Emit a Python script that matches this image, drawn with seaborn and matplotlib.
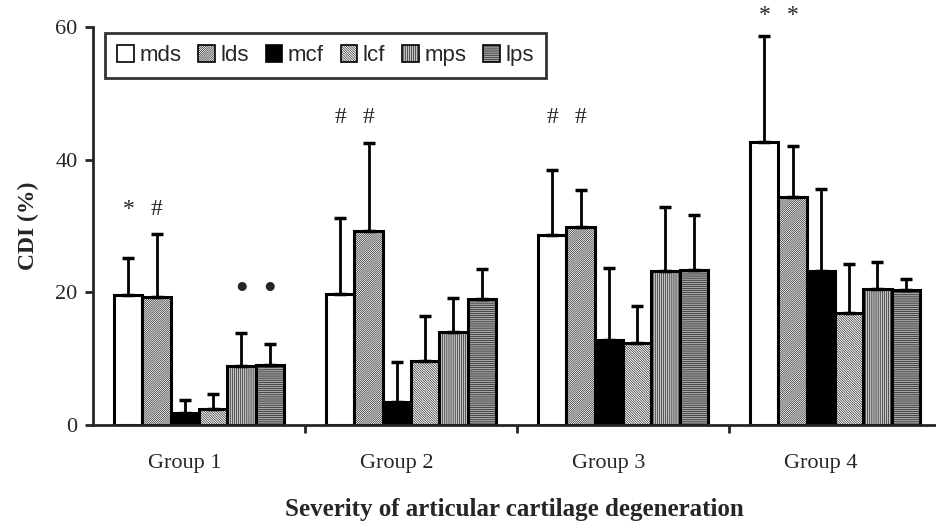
import matplotlib
matplotlib.use("Agg")
import matplotlib.pyplot as plt
import matplotlib.transforms as mtransforms
import seaborn as sns
import pandas as pd
import numpy as np

groups = ["Group 1", "Group 2", "Group 3", "Group 4"]
series = ["mds", "lds", "mcf", "lcf", "mps", "lps"]
mds = [19.6, 19.7, 28.6, 42.7]
lds = [19.3, 29.2, 29.9, 34.4]
mcf = [1.8, 3.5, 12.8, 23.2]
lcf = [2.4, 9.7, 12.4, 16.9]
mps = [8.9, 14.0, 23.2, 20.5]
lps = [9.1, 19.0, 23.4, 20.4]
mds_top = [25.2, 31.2, 38.4, 58.7]
lds_top = [28.8, 42.5, 35.5, 42.1]
mcf_top = [3.8, 9.5, 23.6, 35.6]
lcf_top = [4.7, 16.4, 18.0, 24.3]
mps_top = [13.9, 19.1, 32.9, 24.6]
lps_top = [12.2, 23.5, 31.7, 22.0]
# significance marks: (group index, series index, symbol, y value)
mark_group = [0, 0, 0, 0, 1, 1, 2, 2, 3, 3]
mark_series = [0, 1, 4, 5, 0, 1, 0, 1, 0, 1]
mark_text = ["*", "#", "\u25CF", "\u25CF", "#", "#", "#", "#", "*", "*"]
mark_y = [32.5, 32.5, 20.8, 20.8, 46.4, 46.4, 46.4, 46.4, 61.8, 61.8]

means = [mds, lds, mcf, lcf, mps, lps]
tops = [mds_top, lds_top, mcf_top, lcf_top, mps_top, lps_top]
rows = []
for s, m, t in zip(series, means, tops):
    for g, v, tv in zip(groups, m, t):
        rows.append({"group": g, "series": s, "value": v, "top": tv})
df = pd.DataFrame(rows)

sns.set_style("ticks")
plt.rcParams["hatch.linewidth"] = 0.4

fig = plt.figure(figsize=(9.36, 5.25), dpi=100)
ax = fig.add_axes([93 / 936, 100 / 525, (936 - 93) / 936, (425 - 27) / 525])

faces = ["white", "white", "black", "white", "#c4c4c4", "#a6a6a6"]
hatches = [None, "/" * 16, None, "\\" * 14, "|" * 8, "-" * 8]
hatch_colors = ["black", "#303030", "black", "#404040", "#202020", "#505050"]
pal = dict(zip(series, faces))
sns.barplot(data=df, x="group", y="value", hue="series", order=groups,
            hue_order=series, palette=pal, errorbar=None, width=0.8,
            edgecolor="black", linewidth=2.2, saturation=1, ax=ax, legend=True)


def style_patch(p, si):
    if hatches[si]:
        p.set_hatch(hatches[si])
        if hasattr(p, "set_hatchcolor"):
            p.set_hatchcolor(hatch_colors[si])


bars = list(ax.patches)[:len(series) * len(groups)]
for si, s in enumerate(series):
    for gi in range(len(groups)):
        p = bars[si * len(groups) + gi]
        style_patch(p, si)
        x = p.get_x() + p.get_width() / 2
        h = p.get_height()
        ax.errorbar([x], [h], yerr=[[0], [tops[si][gi] - h]], fmt="none",
                    ecolor="black", elinewidth=2, capsize=4.5, capthick=2.5, zorder=1)

for g, s, t, y in zip(mark_group, mark_series, mark_text, mark_y):
    p = bars[s * len(groups) + g]
    x = p.get_x() + p.get_width() / 2
    fs = 15 if t == "\u25CF" else 17
    ax.text(x, y, t, ha="center", va="center", fontsize=fs,
            family=["Liberation Serif", "DejaVu Sans"], clip_on=False)

ax.set_xlim(-0.5, 3.5 - 5 / 212)
ax.set_ylim(0, 60)
ax.set_yticks([0, 20, 40, 60])
ax.set_xticks([0.5, 1.5, 2.5], minor=True)
ax.set_xticks([0, 1, 2, 3])
ax.set_xticklabels(groups)
ax.tick_params(axis="x", which="major", length=0, pad=21)
ax.tick_params(axis="x", which="minor", length=6, width=2, direction="out")
ax.tick_params(axis="y", length=6, width=2, direction="out", pad=5)
for lab in ax.get_xticklabels():
    lab.set_transform(lab.get_transform() + mtransforms.ScaledTranslation(-14 / 100, 0, fig.dpi_scale_trans))
for lab in ax.get_xticklabels() + ax.get_yticklabels():
    lab.set_fontfamily("Liberation Serif")
    lab.set_fontsize(16)
sns.despine(ax=ax, right=True, top=True)
ax.spines["left"].set_linewidth(2)
ax.spines["bottom"].set_linewidth(2)

ax.set_ylabel("CDI (%)", fontsize=17, fontweight="bold", family="Liberation Serif", labelpad=12)
ax.set_xlabel("Severity of articular cartilage degeneration", fontsize=18,
              fontweight="bold", family="Liberation Serif", labelpad=18)

leg = ax.legend(loc="upper left", bbox_to_anchor=(0.0145, 0.985), ncol=6,
                frameon=True, fancybox=False, edgecolor="black",
                handlelength=0.75, handleheight=0.75, handletextpad=0.25,
                columnspacing=0.75, borderpad=0.55, borderaxespad=0,
                prop={"family": "Liberation Sans", "size": 16})
leg.get_frame().set_linewidth(2)
for si, hp in enumerate(leg.get_patches()):
    hp.set_edgecolor("black")
    hp.set_linewidth(1.2)
    style_patch(hp, si)

fig.savefig("out.png", dpi=100)
